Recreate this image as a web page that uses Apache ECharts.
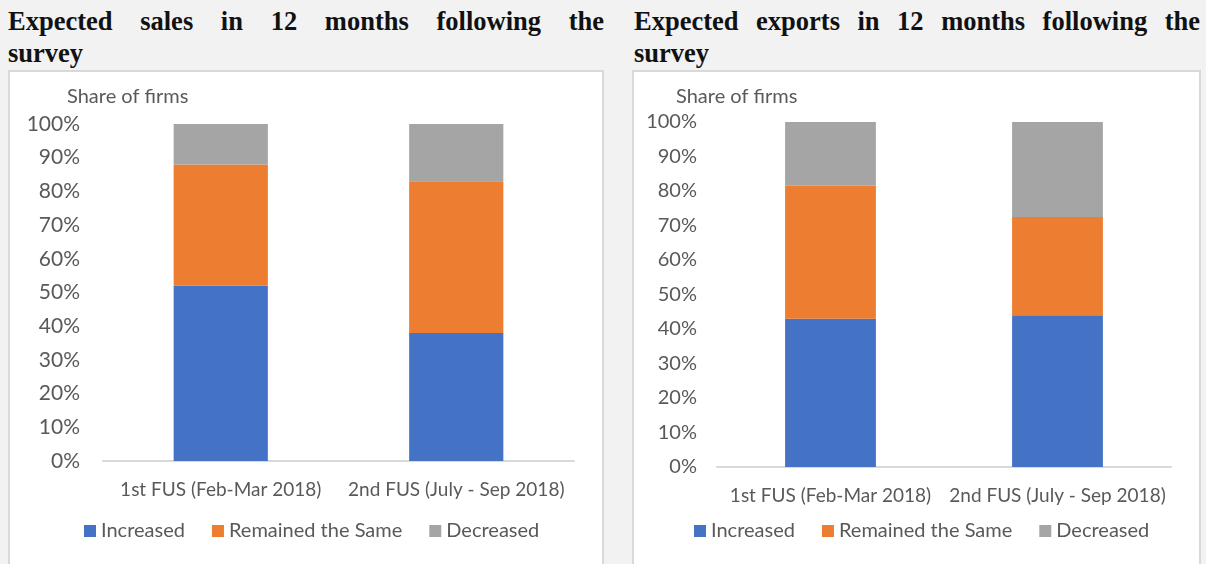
<!DOCTYPE html>
<html>
<head>
<meta charset="utf-8">
<script src="https://cdn.jsdelivr.net/npm/echarts@6/dist/echarts.min.js"></script>
<style>
  html, body {
    margin: 0;
    padding: 0;
    width: 1206px;
    height: 564px;
    overflow: hidden;
    background: #f2f2f2;
  }
  .title {
    position: absolute;
    top: 5px;
    font-family: "Liberation Serif", serif;
    font-weight: bold;
    font-size: 26.5px;
    line-height: 32px;
    color: #111;
  }
  .title .l1 {
    text-align: justify;
    text-align-last: justify;
    white-space: nowrap;
  }
  .box {
    position: absolute;
    top: 70px;
    height: 520px;
    box-sizing: border-box;
    background: #fff;
    border: 2px solid #d9d9d9;
  }
</style>
</head>
<body>
<div class="title" style="left:8px;width:596px;">
  <div class="l1">Expected sales in 12 months following the</div>
  <div>survey</div>
</div>
<div class="title" style="left:634px;width:566px;">
  <div class="l1">Expected exports in 12 months following the</div>
  <div>survey</div>
</div>
<div class="box" id="sales" style="left:8px;width:596px;"></div>
<div class="box" id="exports" style="left:632px;width:569px;"></div>

<script>
// categories + series (share of firms, %)
const categories = ["1st FUS (Feb-Mar 2018)", "2nd FUS (July - Sep 2018)"];
const seriesNames = ["Increased", "Remained the Same", "Decreased"];
const colors = ["#4472C4", "#ED7D31", "#A5A5A5"];

const salesIncreased = [52, 38];
const salesSame = [36, 45];
const salesDecreased = [12, 17];

const exportsIncreased = [43, 44];
const exportsSame = [38.5, 28.5];
const exportsDecreased = [18.5, 27.5];

const textColor = "#595959";
const font = "Lato, 'Open Sans', sans-serif";

// build one stacked chart, layout numbers differ per panel
function makeChart(id, data, cfg) {
  const chart = echarts.init(document.getElementById(id), null, { renderer: "canvas" });
  const option = {
    animation: false,
    textStyle: { fontFamily: font },
    title: {
      text: "Share of firms",
      left: cfg.nameLeft,
      top: 15,
      padding: 0,
      textStyle: { fontFamily: font, fontSize: 20, fontWeight: "normal", color: textColor },
    },
    grid: {
      left: cfg.gridLeft,
      top: cfg.gridTop,
      width: cfg.gridWidth,
      height: cfg.gridHeight,
      containLabel: false,
    },
    legend: {
      left: cfg.legendLeft,
      top: 449,
      padding: 0,
      icon: "rect",
      itemWidth: 12,
      itemHeight: 12,
      itemGap: 27,
      textStyle: { fontFamily: font, fontSize: 20, color: textColor },
      data: seriesNames,
    },
    xAxis: {
      type: "category",
      data: categories,
      axisLine: { lineStyle: { color: "#d9d9d9", width: 2 } },
      axisTick: { show: false },
      axisLabel: { interval: 0, fontFamily: font, fontSize: 19, color: textColor, margin: cfg.catMargin },
    },
    yAxis: {
      type: "value",
      min: 0,
      max: 100,
      interval: 10,
      axisLine: { show: false },
      axisTick: { show: false },
      splitLine: { show: false },
      axisLabel: {
        fontFamily: font,
        fontSize: cfg.tickSize,
        color: textColor,
        margin: cfg.tickMargin,
        formatter: "{value}%",
      },
    },
    series: data.map((vals, i) => ({
      name: seriesNames[i],
      type: "bar",
      stack: "total",
      barWidth: "40%",
      itemStyle: { color: colors[i] },
      data: vals,
    })),
  };
  chart.setOption(option);
  return chart;
}

makeChart("sales", [salesIncreased, salesSame, salesDecreased], {
  nameLeft: 57,
  gridLeft: 93,
  gridTop: 52,
  gridWidth: 471,
  gridHeight: 337,
  tickSize: 21,
  tickMargin: 23,
  catMargin: 19,
  legendLeft: 74,
});

makeChart("exports", [exportsIncreased, exportsSame, exportsDecreased], {
  nameLeft: 42,
  gridLeft: 83,
  gridTop: 50,
  gridWidth: 454,
  gridHeight: 345,
  tickSize: 20,
  tickMargin: 20,
  catMargin: 19,
  legendLeft: 60,
});
</script>
</body>
</html>
